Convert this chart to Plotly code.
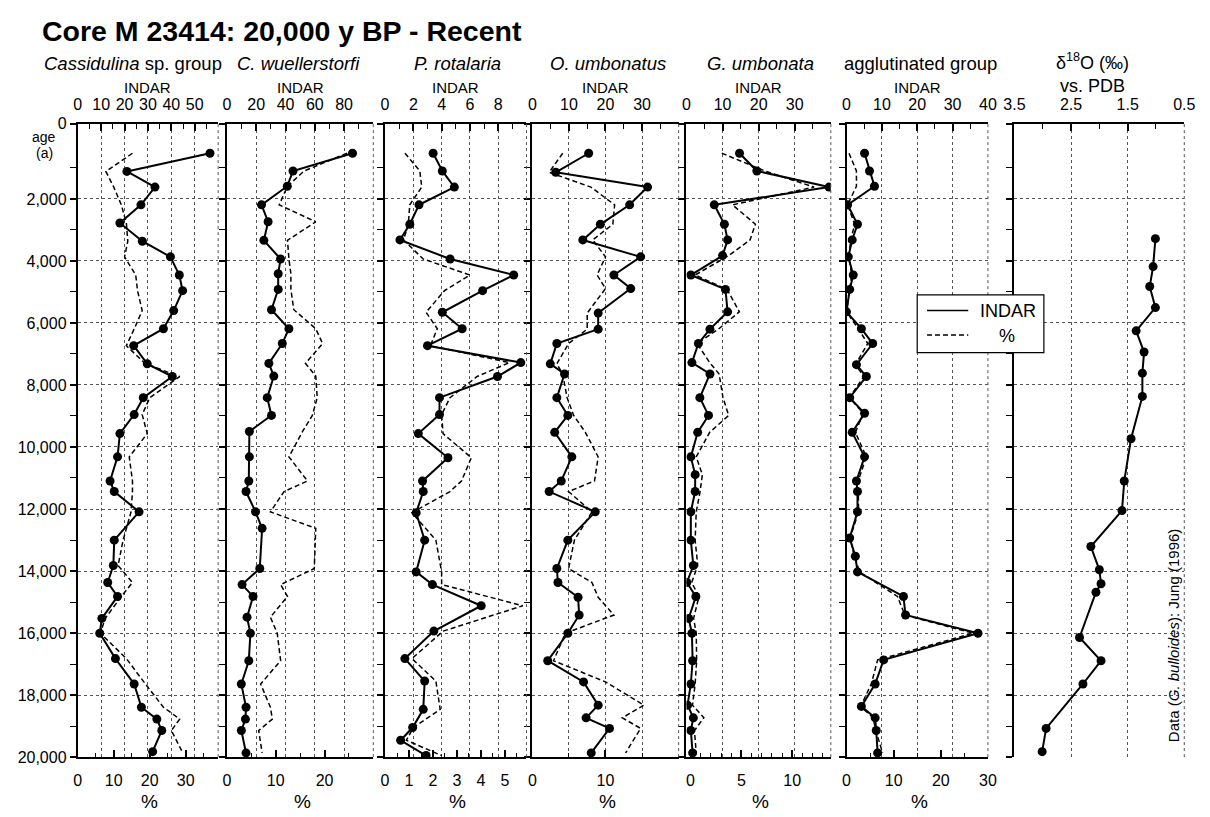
import plotly.graph_objects as go

# ---------------- data ----------------
cass_age = [528, 1114, 1619, 2191, 2778, 3364, 3869, 4455, 4960, 5601, 6187, 6733, 7319, 7728, 8410, 8955,
            9569, 10319, 11096, 11437, 12092, 13005, 13823, 14370, 14820, 15529, 16006, 16825, 17643, 18393,
            18775, 19143, 19825]
cass_indar = [56.5, 21, 33, 27, 18, 27.6, 39.6, 43.4, 44.8, 41, 36.6, 23.9, 29.7, 40.4, 28, 24.1, 18, 17, 13.8,
              15.6, 26.2, 15.6, 15.2, 12.8, 17, 10.3, 9.4, 16.1, 24.1, 27.2, 33.8, 35.9, 32]
cass_pct = [15.2, 7.8, 10, 12.1, 13.5, 13.9, 13, 16.1, 16.6, 17.9, 15.7, 13.5, 18.8, 28.3, 20, 17.9, 19.3, 14.3,
            15.2, 15.2, 14.8, 12.6, 11.2, 15.2, 12.1, 7.6, 6.3, 13.5, 18.8, 23.8, 28.3, 26, 29]

wuel_age = [528, 1100, 1591, 2191, 2737, 3337, 3937, 4414, 4919, 5573, 6187, 6664, 7305, 7714, 8410, 8982, 9500,
            10319, 11096, 11437, 12092, 12624, 13920, 14438, 14820, 15488, 16006, 16893, 17643, 18393, 18775,
            19143, 19866]
wuel_indar = [85.8, 45.1, 41.2, 23.6, 28.1, 25.2, 36.6, 35, 35, 30.4, 42.3, 37.8, 28.6, 32, 27.5, 30.4, 15.3,
              15.3, 14.9, 13, 19.5, 24, 22.4, 10.3, 17.8, 13.7, 16, 14.9, 9.8, 13, 12.6, 9.8, 13]
wuel_pct = [24.6, 15.8, 12.4, 10.7, 18.2, 12.4, 12.7, 13.1, 13.1, 13.7, 18.2, 19.6, 16.1, 18.2, 18.5, 17.5, 15.5,
            12.7, 16.5, 11.7, 8.9, 18.2, 17.9, 11, 12.4, 8.9, 10.3, 11, 6.9, 8.9, 9.3, 6.5, 7.2]

prot_age = [528, 1100, 1619, 2191, 2819, 3323, 3937, 4455, 4960, 5655, 6187, 6733, 7278, 7728, 8410, 8955, 9569,
            10346, 11096, 11437, 12119, 13005, 14028, 14438, 15120, 15938, 16825, 17548, 18461, 19047, 19457,
            19950]
prot_indar = [3.4, 4.05, 4.9, 2.4, 1.75, 1.05, 4.6, 9.1, 6.9, 4.05, 5.45, 3.0, 9.6, 7.95, 3.85, 3.85, 2.35, 4.45,
              2.65, 2.7, 2.2, 2.8, 2.2, 3.35, 6.8, 3.45, 1.4, 2.8, 2.7, 1.95, 1.1, 2.9]
prot_pct = [0.83, 1.45, 1.53, 1.03, 0.97, 0.77, 1.59, 3.54, 2.48, 1.71, 2.18, 1.89, 5.19, 3.84, 2.71, 2.36, 2.42,
            3.6, 3.19, 2.71, 1.12, 2.12, 2.36, 2.36, 5.75, 2.42, 1.12, 2.12, 2.3, 1.18, 0.89, 2.36]

oumb_age = [528, 1142, 1619, 2191, 2819, 3323, 3869, 4455, 4892, 5682, 6200, 6664, 7319, 7646, 8410, 8982, 9528,
            10319, 11096, 11437, 12092, 13005, 13920, 14370, 14847, 15420, 16006, 16893, 17575, 18325, 18734,
            19075, 19866]
oumb_indar = [15.4, 6.4, 31.5, 26.6, 18.6, 13.8, 29.6, 22.3, 26.9, 18, 18, 6.7, 4.9, 8.8, 6.7, 9.7, 6.1, 10.8,
              7.9, 4.6, 17.2, 9.7, 6.7, 7, 12.5, 12.8, 9.7, 4.2, 14, 18, 14.7, 21.1, 16.1]
oumb_pct = [4.15, 2.3, 8, 11.25, 11, 8.25, 10, 8.85, 10, 7.5, 7.5, 4.95, 3.35, 4.15, 4.75, 5.65, 7.25, 9, 8.5,
            4.95, 8.15, 5.75, 4.95, 8.15, 9, 11.15, 4.5, 2.9, 10, 15.25, 12.3, 14.8, 12.75]

gumb_age = [528, 1100, 1619, 2191, 2819, 3323, 3828, 4455, 4919, 5642, 6200, 6664, 7278, 7646, 8410, 8982, 9528,
            10319, 10892, 11437, 12092, 13005, 13823, 14370, 14820, 15529, 16006, 16893, 17643, 18325, 18734,
            19143, 19866]
gumb_indar = [14.7, 19.5, 39.5, 7.7, 10.5, 11.4, 10, 1.2, 10.8, 11.4, 6.5, 3.3, 1.5, 6.5, 3.7, 6.1, 3.1, 1.2,
              2.4, 2.4, 1.2, 1.2, 1.9, 0.1, 2.6, 0.6, 1.5, 1.7, 1.2, 0.3, 1.9, 1.2, 1.7]
gumb_pct = [3.08, 7.31, 12.15, 4.13, 6.38, 5.85, 3.75, 0.45, 3.6, 4.8, 2.74, 0.64, 1.88, 2.81, 3.19, 3.75, 1.88,
            0.56, 1.16, 0.94, 0.56, 0.45, 0.71, 0.11, 0.83, 0.3, 0.56, 0.6, 0.45, 0.19, 1.31, 0.38, 0.56]

aggl_age = [528, 1100, 1591, 2191, 2819, 3323, 3869, 4455, 4919, 5642, 6187, 6664, 7346, 7728, 8410, 8914, 9528,
            10319, 11096, 11437, 12092, 12937, 13523, 14028, 14820, 15420, 16006, 16866, 17643, 18366, 18734,
            19143, 19866]
aggl_indar = [5.1, 6.5, 7.9, 0.3, 3.1, 1.6, 0.5, 1.9, 0.9, 0.0, 4.2, 7.4, 2.8, 5.6, 0.9, 5.1, 1.6, 5.1, 2.8, 3.1,
              3.1, 0.9, 2.5, 3.1, 16.1, 16.7, 37.2, 10.5, 8.1, 4.2, 8.1, 8.4, 8.8]
aggl_pct = [0.53, 2.1, 2.1, 0.23, 1.73, 0.9, 0.45, 1.13, 0.6, 0, 2.48, 4.5, 1.88, 3.68, 0.6, 3.53, 1.88, 4.2,
            2.48, 2.55, 2.55, 0.75, 1.65, 2.78, 10.8, 12.38, 26.85, 6.6, 5.25, 3, 5.63, 6.23, 7.65]

d18o_age = [3283, 4183, 4824, 5506, 6256, 6938, 7619, 8369, 9733, 11096, 12051, 13210, 13960, 14410, 14683,
            16142, 16893, 17643, 19075, 19825]
d18o_val = [1.01, 1.05, 1.11, 1.01, 1.35, 1.21, 1.24, 1.24, 1.44, 1.56, 1.6, 2.15, 2.0, 1.97, 2.06, 2.35, 1.97,
            2.29, 2.94, 3.01]

age_ticks = [2000, 4000, 6000, 8000, 10000, 12000, 14000, 16000, 18000, 20000]
age_labels = ["2,000", "4,000", "6,000", "8,000", "10,000", "12,000", "14,000", "16,000", "18,000", "20,000"]

# ---------------- layout helpers ----------------
W, H = 1210, 817
FONT = "Liberation Sans, Arial, Helvetica, sans-serif"
Y_TOP_PX, Y_BOT_PX = 118, 765
AGE_TOP, AGE_BOT = -430, 20000
TICK_FS = 16


def fx(p):
    return p / W


def fy(p):
    return 1 - p / H


panels = [
    dict(title="<i>Cassidulina</i> sp. group", tx=124, x0=68, x1=211,
         trange=[0, 60], tvals=[0, 10, 20, 30, 40, 50], tminor=5,
         brange=[0, 39], bvals=[0, 10, 20, 30], bminor=5,
         age=cass_age, indar=cass_indar, pct=cass_pct),
    dict(title="<i>C. wuellerstorfi</i>", tx=293, x0=220, x1=369,
         trange=[0, 100], tvals=[0, 20, 40, 60, 80], tminor=10,
         brange=[0, 30], bvals=[0, 10, 20], bminor=5,
         age=wuel_age, indar=wuel_indar, pct=wuel_pct),
    dict(title="<i>P. rotalaria</i>", tx=455, x0=381, x1=525,
         trange=[0, 10], tvals=[0, 2, 4, 6, 8], tminor=1,
         brange=[0, 5.9], bvals=[0, 1, 2, 3, 4, 5], bminor=0.5,
         age=prot_age, indar=prot_indar, pct=prot_pct),
    dict(title="<i>O. umbonatus</i>", tx=608, x0=531, x1=680,
         trange=[0, 40], tvals=[0, 10, 20, 30], tminor=5,
         brange=[0, 20], bvals=[0, 10], bminor=5,
         age=oumb_age, indar=oumb_indar, pct=oumb_pct),
    dict(title="<i>G. umbonata</i>", tx=763, x0=688, x1=835,
         trange=[0, 40], tvals=[0, 10, 20, 30], tminor=5,
         brange=[-0.4, 13.8], bvals=[0, 5, 10], bminor=1,
         age=gumb_age, indar=gumb_indar, pct=gumb_pct),
    dict(title="agglutinated group", tx=926, x0=851, x1=995,
         trange=[0, 40], tvals=[0, 10, 20, 30, 40], tminor=5,
         brange=[0, 30], bvals=[0, 10, 20, 30], bminor=5,
         age=aggl_age, indar=aggl_indar, pct=aggl_pct),
]

fig = go.Figure()
layout = {}
shapes = []
annotations = []
GRID = "#555555"

ydom = [fy(Y_BOT_PX), fy(Y_TOP_PX)]


def ann(text, x, y, size, **kw):
    d = dict(text=text, x=fx(x), y=fy(y), xref="paper", yref="paper", showarrow=False,
             xanchor="center", yanchor="middle", font=dict(family=FONT, size=size, color="black"))
    d.update(kw)
    return d


def yaxis_cfg(anchor, show_labels):
    cfg = dict(domain=ydom, range=[AGE_BOT, AGE_TOP], anchor=anchor, showline=True, linecolor="black",
               linewidth=2, ticks="outside", ticklen=6, tickwidth=1.5, tickcolor="black",
               tickmode="array", tickvals=[AGE_TOP] + age_ticks, ticktext=["0"] + age_labels,
               showticklabels=show_labels, tickfont=dict(family=FONT, size=TICK_FS, color="black"),
               showgrid=True, gridcolor=GRID, griddash="dot", gridwidth=1, zeroline=False,
               minor=dict(tickmode="array", tickvals=list(range(1000, 20000, 2000)), ticks="outside",
                          ticklen=6, tickwidth=1.2, tickcolor="black", showgrid=False))
    return cfg


for i, p in enumerate(panels):
    nt, nb, ny = 2 * i + 1, 2 * i + 2, i + 1
    xt = "x" if nt == 1 else f"x{nt}"
    xb = f"x{nb}"
    yn = "y" if ny == 1 else f"y{ny}"
    layout["xaxis" if nt == 1 else f"xaxis{nt}"] = dict(
        domain=[fx(p["x0"]), fx(p["x1"])], anchor=yn, side="top", range=p["trange"],
        tickmode="array", tickvals=p["tvals"], ticks="inside", ticklen=7, tickwidth=1.5,
        tickcolor="black", showline=True, linecolor="black", linewidth=2, zeroline=False,
        showgrid=True, gridcolor=GRID, griddash="dot", gridwidth=1, ticklabelstandoff=5,
        tickfont=dict(family=FONT, size=TICK_FS, color="black"),
        minor=dict(dtick=p["tminor"], tick0=0, ticks="inside", ticklen=5, tickwidth=1.2, tickcolor="black",
                   showgrid=False))
    layout[f"xaxis{nb}"] = dict(
        overlaying=xt, anchor=yn, side="bottom", range=p["brange"], tickmode="array", tickvals=p["bvals"],
        ticks="inside", ticklen=7, tickwidth=1.5, tickcolor="black", showline=True, linecolor="black",
        linewidth=2, zeroline=False, showgrid=False, ticklabelstandoff=8,
        tickfont=dict(family=FONT, size=TICK_FS, color="black"),
        minor=dict(dtick=p["bminor"], tick0=0, ticks="inside", ticklen=4, tickwidth=1.2, tickcolor="black",
                   showgrid=False))
    layout["yaxis" if ny == 1 else f"yaxis{ny}"] = yaxis_cfg(xt, i == 0)

    fig.add_trace(go.Scatter(x=p["pct"], y=p["age"], xaxis=xb, yaxis=yn, mode="lines",
                             line=dict(color="black", width=1.5, dash="5px,3px"), showlegend=False,
                             hoverinfo="skip"))
    fig.add_trace(go.Scatter(x=p["indar"], y=p["age"], xaxis=xt, yaxis=yn, mode="lines+markers",
                             line=dict(color="black", width=2), marker=dict(color="black", size=9),
                             showlegend=False))
    shapes.append(dict(type="line", xref=f"{xt} domain", yref=f"{yn} domain", x0=1, x1=1, y0=0, y1=1,
                       line=dict(color=GRID, width=1, dash="dot")))
    cx = (p["x0"] + p["x1"]) / 2
    annotations += [
        ann(p["title"], p["tx"], 57, 18.5),
        ann("INDAR", cx, 81, 15),
        ann("%", cx + 2, 810, 19),
    ]

# delta 18O panel
x7, y7 = "x13", "y7"
layout["xaxis13"] = dict(
    domain=[fx(1022), fx(1195)], anchor=y7, side="top", range=[3.5, 0.5], tickmode="array",
    tickvals=[3.5, 2.5, 1.5, 0.5], ticktext=["3.5", "2.5", "1.5", "0.5"], ticks="inside", ticklen=7,
    tickwidth=1.5, tickcolor="black", showline=True, linecolor="black", linewidth=2, zeroline=False,
    showgrid=True, gridcolor=GRID, griddash="dot", gridwidth=1, ticklabelstandoff=5,
    tickfont=dict(family=FONT, size=TICK_FS, color="black"),
    minor=dict(tickmode="array", tickvals=[3.0, 2.0, 1.0], ticks="inside", ticklen=5, tickwidth=1.2,
               tickcolor="black", showgrid=False))
layout["yaxis7"] = yaxis_cfg(x7, False)
fig.add_trace(go.Scatter(x=d18o_val, y=d18o_age, xaxis=x7, yaxis=y7, mode="lines+markers",
                         line=dict(color="black", width=2), marker=dict(color="black", size=9),
                         showlegend=False))
shapes.append(dict(type="line", xref="x13 domain", yref="y7 domain", x0=1, x1=1, y0=0, y1=1,
                   line=dict(color=GRID, width=1, dash="dot")))
annotations += [
    ann("δ<sup>18</sup>O (‰)", 1102, 55, 18),
    ann("vs. PDB", 1102, 80, 18),
    ann("Data (<i>G. bulloides</i>): Jung (1996)", 1184, 641, 15, textangle=-90),
    ann("<b>Core M 23414: 20,000 y BP - Recent</b>", 30, 23, 28.5, xanchor="left"),
    ann("age", 34, 132, 14),
    ann("(a)", 34, 148, 14),
]

# legend (drawn as a framed key)
LX0, LX1, LY0, LY1 = 923, 1052, 293, 352
shapes += [
    dict(type="rect", xref="paper", yref="paper", x0=fx(LX0), x1=fx(LX1), y0=fy(LY1), y1=fy(LY0),
         line=dict(color="black", width=1.2), fillcolor="white", layer="above"),
    dict(type="line", xref="paper", yref="paper", x0=fx(933), x1=fx(975), y0=fy(309), y1=fy(309),
         line=dict(color="black", width=1.5), layer="above"),
    dict(type="line", xref="paper", yref="paper", x0=fx(933), x1=fx(975), y0=fy(334), y1=fy(334),
         line=dict(color="black", width=1.5, dash="5px,3px"), layer="above"),
]
annotations += [
    ann("INDAR", 985, 309, 18, xanchor="left"),
    ann("%", 1014, 335, 18),
]

fig.update_layout(
    width=W, height=H, autosize=False, margin=dict(l=0, r=0, t=0, b=0),
    paper_bgcolor="white", plot_bgcolor="white", font=dict(family=FONT, color="black"),
    shapes=shapes, annotations=annotations, showlegend=False,
    **layout,
)

fig.write_html("out.html")
